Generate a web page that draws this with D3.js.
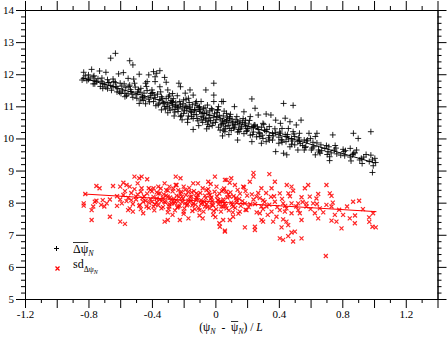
<!DOCTYPE html>
<html lang="en">
<head>
<meta charset="UTF-8">
<title>Delta psi vs psi</title>
<style>
    body { margin: 0; background: #fff; }
    svg { display: block; font-family: "Liberation Serif", "Times New Roman", serif; }
    .axis path, .axis line { stroke: #000; }
</style>
</head>
<body>
<svg width="447" height="340"></svg>

<script src="https://d3js.org/d3.v7.min.js"></script>
<script>
    // mean delta psi (black +)
    const meanDeltaPsi = [
        [-0.66,12.50],[-0.63,12.65],[-0.54,12.42],[-0.52,12.29],[-0.01,11.72],[-0.01,11.35],[-0.06,11.51],[-0.14,10.28],
        [-0.83,12.06],[-0.78,12.15],[-0.83,11.87],[-0.80,11.84],[-0.77,11.92],[-0.73,12.10],[-0.69,12.06],[-0.75,11.77],
        [-0.71,11.56],[-0.71,11.72],[-0.67,11.74],[-0.64,11.77],[-0.61,12.01],[-0.58,12.05],[-0.60,11.72],[-0.57,11.41],
        [-0.55,11.87],[-0.54,11.66],[-0.51,11.72],[-0.53,11.46],[-0.48,12.00],[-0.48,11.09],[-0.46,11.30],[-0.43,11.77],
        [-0.44,11.72],[-0.42,11.98],[-0.39,12.08],[-0.38,11.77],[-0.40,11.51],[-0.37,12.03],[-0.35,12.11],[-0.38,11.92],
        [-0.35,11.61],[-0.32,11.90],[-0.31,11.75],[-0.30,11.51],[-0.34,10.89],[-0.33,11.09],[-0.29,11.35],[-0.27,11.15],
        [-0.23,11.72],[-0.22,11.61],[-0.25,10.99],[-0.22,10.68],[-0.19,11.41],[-0.18,10.99],[-0.17,11.25],[-0.16,11.51],
        [-0.14,11.35],[-0.12,11.15],[-0.13,10.89],[-0.15,10.68],[-0.10,10.99],[-0.09,11.15],[-0.08,10.78],[-0.06,10.57],
        [-0.05,11.04],[-0.02,10.89],[-0.01,11.15],[0.01,10.68],[0.02,10.99],[0.04,11.15],[0.05,10.47],[0.07,10.78],
        [-0.04,10.37],[0.03,10.26],[0.06,10.21],
        [0.05,11.15],[0.23,11.23],[0.43,11.09],[0.49,11.03],[0.25,10.94],[0.12,10.99],[0.18,10.83],[0.27,10.73],
        [0.32,10.76],[0.35,10.73],[0.38,10.57],[0.41,10.47],[0.44,10.63],[0.47,10.52],[0.46,10.31],[0.54,10.57],
        [0.51,10.42],[0.49,10.21],[0.53,10.16],[0.59,10.16],[0.64,10.16],[0.63,10.06],[0.60,10.00],[0.56,9.95],
        [0.53,9.95],[0.48,10.00],[0.45,10.06],[0.42,9.95],[0.40,9.85],[0.38,9.59],[0.43,9.54],[0.45,9.49],
        [0.47,9.74],[0.50,9.80],[0.52,9.64],[0.56,9.64],[0.57,9.74],[0.62,9.74],[0.65,9.64],[0.63,9.49],
        [0.66,9.54],[0.69,9.69],[0.71,9.59],[0.72,9.43],[0.72,9.31],[0.75,9.64],[0.74,10.11],[0.81,9.59],
        [0.85,9.69],[0.87,9.54],[0.87,10.16],[0.90,10.00],[0.89,9.64],[0.91,9.33],[0.98,10.21],[0.98,9.48],
        [0.99,9.33],[1.01,9.25],[0.99,8.94],[0.30,10.47],[0.31,10.26],[0.28,10.06],[0.23,9.90],[0.14,9.95],
        [0.09,10.31],[0.05,10.26],[0.15,10.21],[0.20,10.31],[0.24,10.37],[0.34,10.37],[0.36,10.16],[0.41,10.16],
        [0.34,9.95],[0.32,9.90],[0.29,9.85],[0.42,10.31],[0.06,10.52],[0.09,10.68],[0.14,10.52],[0.19,10.57],
        [0.22,10.68],[0.11,10.42],
        [-0.82,11.95],[-0.79,11.88],[-0.76,11.81],[-0.74,11.86],[-0.72,11.78],[-0.70,11.69],[-0.68,11.83],[-0.66,11.65],
        [-0.645,11.61],[-0.63,11.74],[-0.615,11.55],[-0.59,11.63],[-0.585,11.48],[-0.565,11.58],[-0.55,11.39],[-0.535,11.52],
        [-0.505,11.60],[-0.50,11.36],[-0.49,11.45],[-0.47,11.56],[-0.46,11.28],[-0.45,11.41],[-0.43,11.49],[-0.42,11.22],
        [-0.41,11.33],[-0.395,11.43],[-0.39,11.15],[-0.38,11.27],[-0.365,11.38],[-0.36,11.05],[-0.35,11.21],[-0.34,11.30],
        [-0.325,11.12],[-0.32,10.99],[-0.31,11.24],[-0.30,11.07],[-0.29,10.95],[-0.28,11.18],[-0.27,11.02],[-0.26,10.90],
        [-0.25,11.11],[-0.24,10.97],[-0.235,10.84],[-0.22,11.05],[-0.21,10.92],[-0.20,10.78],[-0.19,11.01],[-0.18,10.86],
        [-0.17,10.70],[-0.16,10.95],[-0.15,10.81],[-0.14,10.62],[-0.13,10.90],[-0.12,10.74],[-0.11,10.55],[-0.10,10.85],
        [-0.09,10.68],[-0.08,10.50],[-0.07,10.78],[-0.06,10.62],[-0.05,10.44],[-0.04,10.72],[-0.03,10.56],[-0.02,10.40],
        [-0.01,10.66],[0.00,10.50],[0.01,10.81],[0.02,10.35],[0.03,10.60],[0.04,10.45],[0.05,10.70],[0.06,10.30],
        [0.07,10.55],[0.08,10.40],[0.09,10.62],[0.10,10.25],[0.11,10.48],[0.12,10.35],[0.13,10.58],[0.14,10.20],
        [0.15,10.42],[0.16,10.30],[0.17,10.50],[0.18,10.15],[0.19,10.38],[0.20,10.24],[0.21,10.45],[0.22,10.10],
        [0.23,10.33],[0.24,10.20],[0.25,10.41],[0.26,10.05],[0.27,10.28],[0.28,10.15],[0.29,10.35],[0.30,10.00],
        [0.32,10.22],[0.34,10.09],[0.36,9.95],[0.38,10.18],[0.40,10.04],[0.42,9.88],[0.44,10.12],[0.46,9.98],
        [0.48,9.82],[0.50,10.06],[0.52,9.90],[0.55,9.78],[0.58,9.95],[0.61,9.70],[0.64,9.86],[0.67,9.62],
        [0.70,9.78],[0.73,9.55],[0.76,9.70],[0.79,9.48],[0.82,9.62],[0.85,9.42],[0.88,9.55],[0.92,9.38],
        [0.95,9.50],[0.97,9.28],
        [-0.27,11.40],[-0.24,11.33],[-0.20,11.20],[-0.165,11.12],[-0.115,11.02],[-0.075,10.94],[-0.035,10.86],[0.015,10.90],
        [-0.30,10.80],[-0.26,10.70],[-0.21,10.58],[-0.175,10.50],[-0.105,10.40],[-0.055,10.30],[0.045,10.08],[0.085,10.12],
        [-0.44,11.08],[-0.47,11.20],[-0.52,11.28],[-0.57,11.30],[-0.62,11.45],[-0.69,11.60],[-0.76,11.70],[-0.84,11.82],
        [-0.81,11.80],[-0.80,11.98],[-0.77,11.70],[-0.765,11.95],[-0.725,11.62],[-0.715,11.88],[-0.68,11.55],[-0.675,11.74],
        [-0.655,11.50],[-0.645,11.85],[-0.625,11.62],[-0.605,11.44],[-0.595,11.40],[-0.575,11.70],[-0.56,11.33],[-0.545,11.62],
        [-0.525,11.38],[-0.515,11.85],[-0.495,11.25],[-0.485,11.52],[-0.475,11.44],[-0.455,11.18],[-0.445,11.26],[-0.435,11.62],
        [-0.415,11.14],[-0.405,11.40],[-0.385,11.35],[-0.375,11.02],[-0.355,11.10],[-0.345,11.45],[-0.335,11.25],[-0.315,10.92],
        [-0.305,11.00],[-0.295,11.30],[-0.285,10.88],[-0.275,11.12],[-0.265,11.24],[-0.255,10.82],[-0.235,10.95],[-0.225,11.15],
        [-0.215,10.72],[-0.205,11.08],[-0.195,10.88],[-0.185,11.22],[-0.175,10.60],[-0.165,10.98],[-0.155,10.84],[-0.145,11.05],
        [-0.135,10.75],[-0.125,11.10],[-0.115,10.62],[-0.105,10.96],[-0.095,10.90],[-0.085,10.58],[-0.075,10.66],[-0.065,10.95],
        [-0.055,10.82],[-0.045,10.52],[-0.035,10.64],[-0.025,10.93],[-0.015,10.48],[-0.005,10.77],[0.005,10.58],[0.015,10.88],
        [0.025,10.72],[0.035,10.42],[0.045,10.55],[0.055,10.85],[0.065,10.38],[0.075,10.66],[0.085,10.50],[0.095,10.75],
        [0.105,10.60],[0.115,10.32],[0.125,10.44],[0.135,10.68],[0.145,10.28],[0.155,10.55],[0.165,10.36],[0.175,10.62],
        [0.185,10.48],[0.195,10.22],[0.205,10.30],[0.215,10.56],[0.235,10.12],[0.245,10.42],[0.265,10.36],[0.275,10.18],
        [0.295,10.10],[0.305,10.44],[0.325,10.28],[0.335,10.02],[0.365,10.08],[0.375,10.30],[0.405,10.20],[0.415,9.96],
        [0.455,10.12],[0.445,9.90],[0.485,9.92],[0.495,10.14],[0.535,9.84],[0.525,10.02],[0.575,9.92],[0.565,9.72],
        [0.615,9.88],[0.605,9.64],[0.665,9.80],[0.655,9.58],[0.715,9.74],[0.705,9.50],[0.765,9.52],[0.755,9.78],
        [0.815,9.46],[0.805,9.66],[0.865,9.50],[0.855,9.30],[0.935,9.42],[0.925,9.22],[1.005,9.38],[0.995,9.15]
    ];

    // sd of delta psi (red x)
    const sdDeltaPsi = [
        [-0.82,8.27],[-0.83,7.98],[-0.83,7.91],[-0.78,7.77],[-0.77,7.88],[-0.75,8.52],[-0.73,8.45],[-0.76,8.03],
        [-0.75,8.06],[-0.71,8.08],[-0.72,7.93],[-0.685,7.98],[-0.70,7.88],[-0.665,8.10],[-0.645,8.52],[-0.62,7.90],
        [-0.665,7.56],[-0.78,7.46],[-0.60,8.50],[-0.58,8.62],[-0.56,8.55],[-0.54,8.50],[-0.58,8.24],[-0.60,8.10],
        [-0.60,7.41],[-0.57,7.34],[-0.54,7.82],[-0.53,8.08],[-0.55,7.77],[-0.51,8.81],[-0.48,8.76],[-0.465,8.81],
        [-0.43,8.73],[-0.49,8.60],[-0.465,8.45],[-0.42,8.45],[-0.39,8.45],[-0.36,8.50],[-0.50,8.19],[-0.476,7.93],
        [-0.455,8.03],[-0.434,7.88],[-0.52,7.72],[-0.455,7.67],[-0.40,8.03],[-0.39,7.88],[-0.37,8.13],[-0.35,8.29],
        [-0.34,7.82],[-0.32,8.60],[-0.31,8.39],[-0.29,8.50],[-0.30,8.19],[-0.32,8.03],[-0.29,7.88],[-0.32,7.41],
        [-0.30,7.46],[-0.27,7.62],[-0.25,8.81],[-0.22,8.76],[-0.245,8.55],[-0.234,8.39],[-0.20,8.50],[-0.21,8.19],
        [-0.255,8.03],[-0.234,7.88],[-0.19,7.98],[-0.20,7.72],[-0.224,7.46],[-0.17,7.51],[-0.17,8.34],[-0.15,8.19],
        [-0.14,7.98],[-0.11,8.60],[-0.12,8.29],[-0.09,8.08],[-0.10,7.77],[-0.08,7.51],[-0.056,8.39],[-0.045,8.65],
        [-0.035,8.24],[-0.024,7.93],[-0.014,7.62],[-0.003,8.81],[0.007,8.50],[0.018,8.08],[0.025,7.36],[0.028,7.25],
        [0.049,7.46],[0.060,7.13],[0.039,7.88],[0.070,8.34],[0.060,8.71],
        [0.24,8.93],[0.34,8.89],[0.10,8.76],[0.07,8.71],[0.24,8.81],[0.375,8.65],[0.45,8.55],[0.585,8.55],
        [0.70,8.55],[0.564,8.45],[0.48,8.50],[0.49,8.37],[0.46,8.29],[0.406,8.29],[0.354,8.45],[0.29,8.45],
        [0.217,8.65],[0.175,8.50],[0.123,8.55],[0.648,8.27],[0.595,8.19],[0.543,8.17],[0.522,7.98],[0.637,8.13],
        [0.721,8.29],[0.732,8.21],[0.868,8.03],[0.906,8.06],[0.70,7.93],[0.732,7.88],[0.574,7.98],[0.616,7.98],
        [0.48,7.98],[0.427,7.98],[0.375,8.03],[0.301,8.08],[0.259,8.19],[0.322,7.88],[0.406,7.77],[0.448,7.82],
        [0.522,7.77],[0.532,7.67],[0.48,7.67],[0.438,7.72],[0.627,7.67],[0.648,7.51],[0.753,7.62],[0.805,7.62],
        [0.847,7.51],[0.879,7.36],[0.732,7.44],[0.763,7.41],[0.795,7.20],[0.969,7.54],[0.994,7.67],[0.99,7.25],
        [1.011,7.23],[0.543,7.46],[0.448,7.41],[0.459,7.30],[0.427,7.48],[0.417,7.23],[0.364,7.41],[0.301,7.41],
        [0.291,7.46],[0.249,7.25],[0.249,7.15],[0.186,7.23],[0.060,7.10],[0.091,7.46],[0.112,7.56],[0.154,7.72],
        [0.196,7.77],[0.280,7.67],[0.354,7.72],[0.385,7.56],[0.501,7.10],[0.48,7.07],[0.459,6.96],[0.406,6.89],
        [0.427,6.84],[0.49,6.79],[0.543,6.89],[0.696,6.34],[0.574,7.88],[0.658,7.82],[0.049,8.39],[0.091,8.19],
        [0.133,8.08],[0.049,7.88],[0.112,7.88],[0.186,7.98],
        [-0.34,8.05],[-0.31,8.22],[-0.29,7.95],[-0.27,8.35],[-0.26,8.12],[-0.24,7.85],[-0.22,8.28],[-0.21,8.02],
        [-0.19,8.40],[-0.18,7.92],[-0.16,8.18],[-0.15,8.32],[-0.13,7.80],[-0.12,8.08],[-0.11,8.25],[-0.09,7.96],
        [-0.08,8.45],[-0.06,8.14],[-0.05,7.86],[-0.04,8.30],[-0.02,8.04],[-0.01,7.74],[0.01,8.20],[0.02,7.95],
        [0.04,8.36],[0.05,8.10],[0.07,7.82],[0.08,8.26],[0.10,8.00],[0.11,7.70],[0.13,8.15],[0.14,8.40],
        [0.16,7.90],[0.17,8.05],[0.19,7.78],[0.20,8.22],[0.22,7.95],[0.24,8.10],[0.26,7.70],[0.27,8.30],
        [0.29,7.88],[0.31,8.02],[0.33,7.62],[0.35,8.18],[-0.45,8.20],[-0.42,8.00],[-0.40,8.35],[-0.38,7.95],
        [-0.36,8.28],[-0.50,8.10],[-0.53,8.30],[-0.48,7.90],[-0.56,8.05],[-0.30,7.70],[-0.20,7.65],[-0.10,7.60],
        [0.00,7.55],[-0.25,8.55],[-0.14,8.60],[-0.03,8.58],[0.09,8.62],[0.18,8.48],
        [-0.33,8.15],[-0.28,8.08],[-0.23,8.18],[-0.17,8.06],[-0.12,8.16],[-0.07,8.02],[-0.03,8.12],[0.03,8.04],
        [-0.37,8.02],[-0.26,7.98],[-0.145,7.92],[-0.065,7.88],[0.06,7.98],[0.15,8.12],[-0.41,8.12],[-0.47,8.34],
        [-0.44,8.06],[-0.43,8.28],[-0.42,7.84],[-0.41,8.40],[-0.39,8.18],[-0.385,7.76],[-0.37,8.32],[-0.36,7.92],
        [-0.35,8.10],[-0.345,8.44],[-0.33,7.86],[-0.325,8.26],[-0.315,8.00],[-0.30,8.38],[-0.295,7.80],[-0.285,8.16],
        [-0.275,7.98],[-0.265,8.44],[-0.255,7.76],[-0.245,8.22],[-0.235,8.04],[-0.225,7.90],[-0.215,8.34],[-0.205,8.12],
        [-0.195,7.82],[-0.185,8.24],[-0.175,7.96],[-0.165,8.46],[-0.155,8.06],[-0.145,7.74],[-0.135,8.36],[-0.125,7.94],
        [-0.115,8.14],[-0.105,7.84],[-0.095,8.30],[-0.085,8.00],[-0.075,7.72],[-0.065,8.22],[-0.055,7.96],[-0.045,8.42],
        [-0.035,7.82],[-0.025,8.16],[-0.015,7.92],[-0.005,8.34],[0.005,7.80],[0.015,8.08],[0.025,8.28],[0.035,7.72],
        [0.045,8.02],[0.055,8.44],[0.065,7.90],[0.075,8.16],[0.085,7.76],[0.095,8.32],[0.105,7.94],[0.115,8.20],
        [0.125,7.84],[0.135,8.00],[0.145,7.66],[0.155,8.28],
        [-0.62,8.20],[-0.59,7.98],[-0.57,8.36],[-0.55,8.15],[-0.52,7.96],[-0.51,8.42],[-0.49,8.26],[-0.47,7.80],
        [-0.46,8.14],[0.19,8.36],[0.21,7.86],[0.23,8.26],[0.25,7.96],[0.28,8.14],[0.30,7.80],[0.32,8.30],
        [0.34,7.94],[0.37,8.20],[0.39,7.86],[0.42,8.12],[0.44,7.90],[0.47,8.20],[0.51,7.88],[0.55,8.02],
        [0.60,7.80],[0.64,7.96],[0.68,7.70],[0.74,8.00],[0.78,7.78],[0.83,7.88],[0.88,7.60],[0.93,7.80],[0.97,7.40]
    ];

    // fitted lines (end points)
    const meanFit = [[-0.84, 11.89], [1.01, 9.23]];
    const sdFit = [[-0.83, 8.27], [1.015, 7.72]];

    const xMajor = [-1.2, -1.0, -0.8, -0.6, -0.4, -0.2, 0, 0.2, 0.4, 0.6, 0.8, 1.0, 1.2, 1.4];
    const xMinor = [-1.1, -0.9, -0.7, -0.5, -0.3, -0.1, 0.1, 0.3, 0.5, 0.7, 0.9, 1.1, 1.3];
    const xLabels = [-1.2, -0.8, -0.4, 0, 0.4, 0.8, 1.2];
    const yMajor = [5, 6, 7, 8, 9, 10, 11, 12, 13, 14];
    const yMinor = [];
    yMajor.slice(0, -1).forEach(v => [0.2, 0.4, 0.6, 0.8].forEach(s => yMinor.push(+(v + s).toFixed(1))));

    const serif = '"Liberation Serif", "Times New Roman", serif';

    const svg = d3.select('svg');
    const x = d3.scaleLinear().domain([-1.2, 1.4]).range([25, 437.5]);
    const y = d3.scaleLinear().domain([5, 14]).range([299, 10]);

    const fmtX = d => xLabels.some(v => Math.abs(v - d) < 1e-9) ? (d === 0 ? '0' : d.toFixed(1)) : '';

    // axes on all four sides, ticks pointing out
    const addAxis = (axis, tr) => svg.append('g')
        .attr('class', 'axis')
        .attr('transform', tr)
        .call(axis)
        .attr('font-family', serif)
        .attr('font-size', 11);

    addAxis(d3.axisBottom(x).tickValues(xMajor).tickSize(9).tickSizeOuter(0).tickPadding(2).tickFormat(fmtX), 'translate(0,299)');
    addAxis(d3.axisBottom(x).tickValues(xMinor).tickSize(4).tickSizeOuter(0).tickFormat(''), 'translate(0,299)');
    addAxis(d3.axisTop(x).tickValues(xMajor).tickSize(9).tickSizeOuter(0).tickFormat(''), 'translate(0,10)');
    addAxis(d3.axisTop(x).tickValues(xMinor).tickSize(4).tickSizeOuter(0).tickFormat(''), 'translate(0,10)');
    addAxis(d3.axisLeft(y).tickValues(yMajor).tickSize(9).tickSizeOuter(0).tickPadding(2).tickFormat(d3.format('d')), 'translate(25,0)');
    addAxis(d3.axisLeft(y).tickValues(yMinor).tickSize(4).tickSizeOuter(0).tickFormat(''), 'translate(25,0)');
    addAxis(d3.axisRight(y).tickValues(yMajor).tickSize(9).tickSizeOuter(0).tickFormat(''), 'translate(437.5,0)');
    addAxis(d3.axisRight(y).tickValues(yMinor).tickSize(4).tickSizeOuter(0).tickFormat(''), 'translate(437.5,0)');

    const plus = 'M-3,0H3M0,-3V3';
    const cross = 'M-2,-2L2,2M-2,2L2,-2';

    svg.append('g').selectAll('path')
        .data(meanDeltaPsi)
        .join('path')
        .attr('d', plus)
        .attr('transform', d => `translate(${x(d[0])},${y(d[1])})`)
        .attr('stroke', '#000')
        .attr('stroke-opacity', 0.85)
        .attr('fill', 'none');

    const line = d3.line().x(d => x(d[0])).y(d => y(d[1]));

    svg.append('path').attr('d', line(meanFit)).attr('stroke', '#000').attr('fill', 'none');

    svg.append('g').selectAll('path')
        .data(sdDeltaPsi)
        .join('path')
        .attr('d', cross)
        .attr('transform', d => `translate(${x(d[0])},${y(d[1])})`)
        .attr('stroke', '#ff0000')
        .attr('stroke-width', 1.2)
        .attr('stroke-opacity', 0.85)
        .attr('fill', 'none');

    svg.append('path').attr('d', line(sdFit)).attr('stroke', '#ff0000').attr('fill', 'none');

    // legend
    svg.append('path').attr('d', 'M-2.5,0H2.5M0,-2.5V2.5').attr('transform', 'translate(56.5,248.5)').attr('stroke', '#000').attr('fill', 'none');
    svg.append('path').attr('d', cross).attr('transform', 'translate(57.5,268.5)').attr('stroke', '#ff0000').attr('stroke-width', 1.2).attr('fill', 'none');

    const leg1 = svg.append('text').attr('x', 73).attr('y', 252.5).attr('font-size', 12).attr('font-family', serif);
    leg1.append('tspan').text('Δψ');
    leg1.append('tspan').attr('font-size', 8).attr('font-style', 'italic').attr('dy', 3.5).text('N');
    const e0 = leg1.node().getExtentOfChar(0), e1 = leg1.node().getExtentOfChar(1);
    svg.append('line').attr('x1', e0.x).attr('x2', e1.x + e1.width).attr('y1', 242.5).attr('y2', 242.5)
        .attr('stroke', '#000').attr('stroke-width', 0.8);

    const leg2 = svg.append('text').attr('x', 73).attr('y', 267.5).attr('font-size', 12).attr('font-family', serif);
    leg2.append('tspan').text('sd');
    leg2.append('tspan').attr('font-size', 8).attr('dy', 4).text('Δψ');
    leg2.append('tspan').attr('font-size', 6).attr('font-style', 'italic').attr('dy', 2).text('N');

    // x axis title
    const title = svg.append('text').attr('y', 331).attr('font-size', 11.5).attr('font-family', serif);
    title.append('tspan').text('(ψ');
    title.append('tspan').attr('font-size', 8).attr('font-style', 'italic').attr('dy', 3).text('N');
    title.append('tspan').attr('dy', -3).text('\u00a0\u00a0-\u00a0\u00a0');
    title.append('tspan').text('ψ');
    title.append('tspan').attr('font-size', 8).attr('font-style', 'italic').attr('dy', 3).text('N');
    title.append('tspan').attr('dy', -3).text(')\u00a0/\u00a0');
    title.append('tspan').attr('font-style', 'italic').text('L');
    const len = title.node().getComputedTextLength();
    title.attr('x', 231 - len / 2);
    const ep = title.node().getExtentOfChar(8);
    svg.append('line').attr('x1', ep.x).attr('x2', ep.x + ep.width).attr('y1', 321.5).attr('y2', 321.5)
        .attr('stroke', '#000').attr('stroke-width', 0.8);
</script>
</body>
</html>
